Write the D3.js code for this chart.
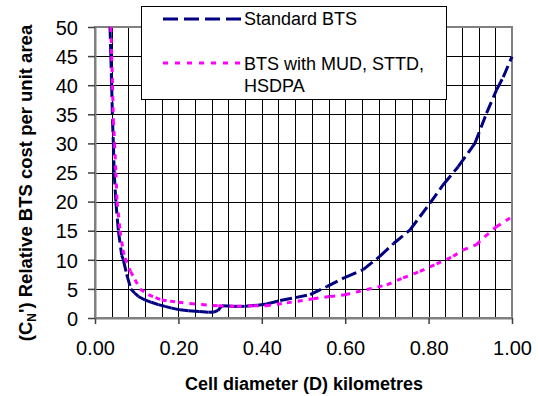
<!DOCTYPE html>
<html>
<head>
<meta charset="utf-8">
<script src="https://cdn.jsdelivr.net/npm/d3@7"></script>
<style>
  html, body { margin: 0; padding: 0; background: #fff; }
  svg { display: block; font-family: Arial, "Liberation Sans", sans-serif; }
</style>
</head>
<body>
<svg id="chart" width="539" height="396"></svg>
<script>
// ---- data ----
const seriesNames = ["Standard BTS", "BTS with MUD, STTD, HSDPA"];
const stdD = [0.036, 0.038, 0.040, 0.042, 0.044, 0.046, 0.050, 0.056, 0.064, 0.068, 0.076, 0.086, 0.095, 0.104, 0.12, 0.135, 0.152, 0.168, 0.184, 0.204, 0.224, 0.25, 0.272, 0.285, 0.295, 0.304, 0.33, 0.36, 0.39, 0.412, 0.444, 0.48, 0.516, 0.556, 0.60, 0.643, 0.683, 0.716, 0.755, 0.779, 0.803, 0.835, 0.871, 0.911, 0.939, 0.963, 0.979, 1.0];
const stdV = [50, 45, 40, 34, 30, 25, 20, 15, 10.8, 10, 7.5, 5, 4.3, 3.7, 3.1, 2.7, 2.3, 2.0, 1.7, 1.4, 1.25, 1.1, 1.0, 1.0, 1.3, 2.1, 2.0, 2.0, 2.2, 2.4, 3.0, 3.5, 4.0, 5.4, 7.0, 8.3, 10.6, 12.8, 15.1, 17.4, 19.7, 22.9, 26.0, 30.0, 35.2, 39.2, 41.4, 44.9];
const mudD = [0.038, 0.040, 0.042, 0.044, 0.047, 0.050, 0.053, 0.060, 0.067, 0.072, 0.085, 0.096, 0.108, 0.128, 0.145, 0.16, 0.18, 0.2, 0.228, 0.256, 0.296, 0.34, 0.38, 0.41, 0.46, 0.524, 0.564, 0.60, 0.652, 0.70, 0.739, 0.779, 0.819, 0.859, 0.883, 0.915, 0.935, 0.963, 1.0];
const mudV = [50, 45, 40, 34, 30, 25, 20, 15, 11.7, 10.3, 8, 6.6, 5, 4.0, 3.5, 3.1, 2.9, 2.7, 2.5, 2.3, 2.1, 2.0, 2.1, 2.1, 2.6, 3.3, 3.7, 4.0, 4.9, 5.7, 6.9, 8.0, 9.3, 10.6, 11.7, 12.6, 14.0, 15.7, 17.4];
const xTicks = [0, 0.2, 0.4, 0.6, 0.8, 1.0];
const xGrid = d3.range(0, 26).map(i => i * 0.04);
const yTicks = [0, 5, 10, 15, 20, 25, 30, 35, 40, 45, 50];
const xTitle = "Cell diameter (D) kilometres";

// ---- layout ----
const svg = d3.select("#chart");
const L = 95, R = 512, T = 27, B = 318;
const x = d3.scaleLinear().domain([0, 1]).range([L, R]);
const y = d3.scaleLinear().domain([0, 50]).range([B, T]);

// gridlines
const g = svg.append("g");
g.selectAll("line.vg").data(xGrid).join("line")
  .attr("x1", d => Math.round(x(d)) + 0.5).attr("x2", d => Math.round(x(d)) + 0.5)
  .attr("y1", T).attr("y2", B)
  .attr("stroke", "#000").attr("stroke-width", 1);
g.selectAll("line.hg").data(yTicks).join("line")
  .attr("x1", L).attr("x2", R)
  .attr("y1", d => Math.round(y(d)) + 0.5).attr("y2", d => Math.round(y(d)) + 0.5)
  .attr("stroke", "#000").attr("stroke-width", 1);

// frame (top/right gray)
svg.append("rect").attr("x", L).attr("y", T).attr("width", R - L).attr("height", B - T)
  .attr("fill", "none").attr("stroke", "#808080").attr("stroke-width", 2);

// axes
const xAxis = svg.append("g").attr("transform", `translate(0,${B})`)
  .call(d3.axisBottom(x).tickValues(xTicks).tickFormat(d3.format(".2f")).tickSize(6).tickSizeOuter(0));
const yAxis = svg.append("g").attr("transform", `translate(${L},0)`)
  .call(d3.axisLeft(y).tickValues(yTicks).tickFormat(d3.format("d")).tickSize(7).tickSizeOuter(0));
[xAxis, yAxis].forEach(a => {
  a.select(".domain").attr("stroke", "#808080").attr("stroke-width", 2);
  a.selectAll(".tick line").attr("stroke", "#404040").attr("stroke-width", 1.5);
  a.selectAll(".tick text").attr("fill", "#000").attr("font-size", 20)
    .attr("font-family", "Arial, 'Liberation Sans', sans-serif");
});
xAxis.selectAll(".tick text").attr("dy", null).attr("y", 37);
yAxis.selectAll(".tick text").attr("x", -17).attr("dy", "0.36em");

// series: each segment drawn separately so the dash pattern restarts at each point
const line = d3.line().x(d => x(d[0])).y(d => y(d[1]));
function drawSeries(ds, vs, color, dash) {
  const pts = ds.map((d, i) => [d, vs[i]]);
  const segs = d3.pairs(pts);
  svg.append("g").selectAll("path").data(segs).join("path")
    .attr("d", line)
    .attr("fill", "none").attr("stroke", color).attr("stroke-width", 3)
    .attr("stroke-dasharray", dash);
}
drawSeries(stdD, stdV, "#000080", "12,5");
drawSeries(mudD, mudV, "#FF00FF", "5,6");

// legend
const lg = svg.append("g");
lg.append("rect").attr("x", 141.5).attr("y", 6.5).attr("width", 305).attr("height", 93)
  .attr("fill", "#fff").attr("stroke", "#000").attr("stroke-width", 1);
const legendItems = [
  { name: seriesNames[0], color: "#000080", dash: "15,6", ly: 19, lines: ["Standard BTS"], ty: 25 },
  { name: seriesNames[1], color: "#FF00FF", dash: "5,7", ly: 63, lines: ["BTS with MUD, STTD,", "HSDPA"], ty: 70 }
];
legendItems.forEach(it => {
  lg.append("line").attr("x1", 163).attr("x2", 242).attr("y1", it.ly).attr("y2", it.ly)
    .attr("stroke", it.color).attr("stroke-width", 3).attr("stroke-dasharray", it.dash);
  const t = lg.append("text").attr("x", 244).attr("y", it.ty).attr("font-size", 18).attr("fill", "#000");
  it.lines.forEach((s, i) => t.append("tspan").attr("x", 244).attr("dy", i === 0 ? 0 : 22).text(s));
});

// axis titles
svg.append("text").attr("x", (L + R) / 2 + 0.5).attr("y", 390)
  .attr("text-anchor", "middle").attr("font-size", 18).attr("font-weight", "bold").text(xTitle);

const yt = svg.append("text").attr("transform", `translate(32,183) rotate(-90)`)
  .attr("text-anchor", "middle").attr("font-size", 18.5).attr("font-weight", "bold");
yt.append("tspan").text("(C");
yt.append("tspan").attr("font-size", 12).attr("dy", 4).text("N");
yt.append("tspan").attr("dy", -4).text("') Relative BTS cost per unit area");
</script>
</body>
</html>
